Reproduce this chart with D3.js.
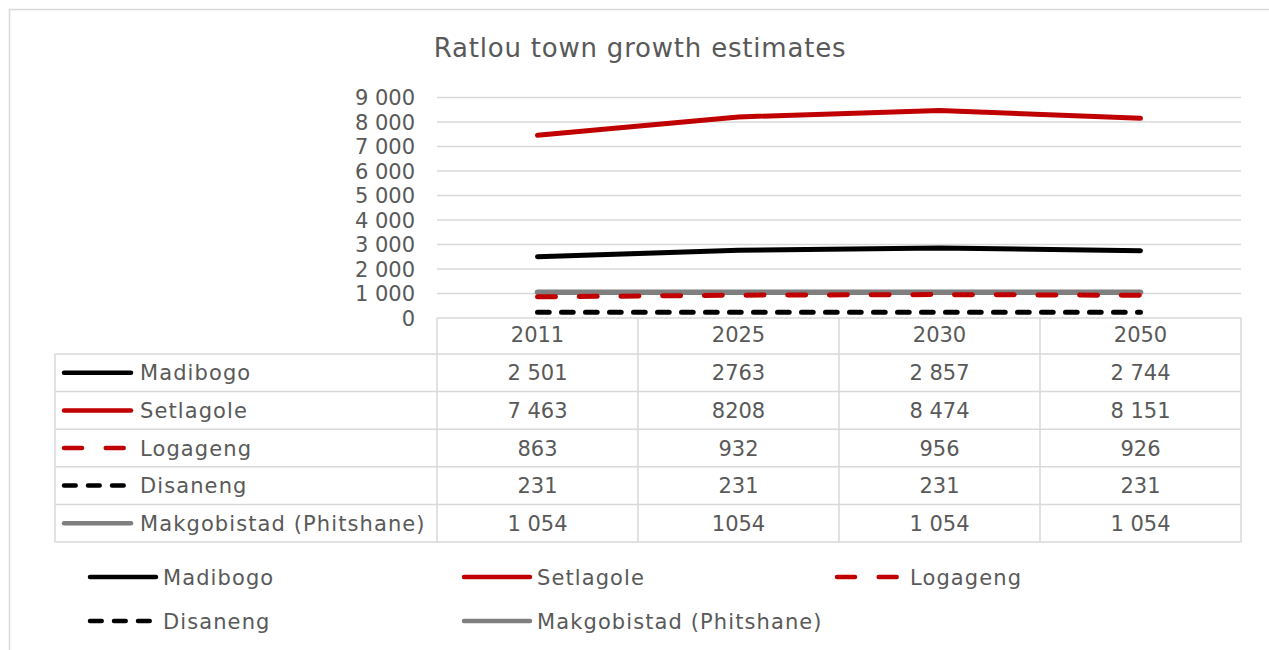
<!DOCTYPE html>
<html>
<head>
<meta charset="utf-8">
<script src="https://cdn.jsdelivr.net/npm/d3@7"></script>
<style>
  body { margin: 0; background: #fff; }
  text { font-family: "DejaVu Sans", sans-serif; fill: #595959; }
</style>
</head>
<body>
<div class="chart"></div>
<script>
const years = ["2011", "2025", "2030", "2050"]
const seriesNames = ["Madibogo", "Setlagole", "Logageng", "Disaneng", "Makgobistad (Phitshane)"]
const madibogo = [2501, 2763, 2857, 2744]
const setlagole = [7463, 8208, 8474, 8151]
const logageng = [863, 932, 956, 926]
const disaneng = [231, 231, 231, 231]
const makgobistad = [1054, 1054, 1054, 1054]
// table text, as printed (the 2025 column has no thousands gap)
const tableLabels = [
  ["2 501", "2763", "2 857", "2 744"],
  ["7 463", "8208", "8 474", "8 151"],
  ["863", "932", "956", "926"],
  ["231", "231", "231", "231"],
  ["1 054", "1054", "1 054", "1 054"]
]
const yTicks = [0, 1000, 2000, 3000, 4000, 5000, 6000, 7000, 8000, 9000]

const width = 1269
const height = 650
const plot = {left: 437, right: 1241, top: 97.5, bottom: 318}
const tableLeft = 55
const headerH = 36
const rowH = 37.6

const styles = [
  {color: "#000000", dash: null, w: 5},
  {color: "#C00000", dash: null, w: 5},
  {color: "#C00000", dash: "18,23.7", w: 5},
  {color: "#000000", dash: "11.7,12.3", w: 5},
  {color: "#7F7F7F", dash: null, w: 5.5}
]
const allValues = [madibogo, setlagole, logageng, disaneng, makgobistad]

const x = d3.scaleBand().domain(years).range([plot.left, plot.right])
const y = d3.scaleLinear().domain([0, 9000]).range([plot.bottom, plot.top])

const svg = d3.select(".chart").append("svg")
  .attr("width", width)
  .attr("height", height)

// outer chart border
svg.append("rect")
  .attr("x", 9.5).attr("y", 9.5)
  .attr("width", width + 20).attr("height", height + 20)
  .attr("fill", "none").attr("stroke", "#d9d9d9").attr("stroke-width", 1.5)

svg.append("text")
  .attr("x", 640).attr("y", 57)
  .attr("text-anchor", "middle")
  .attr("font-size", "26px")
  .attr("letter-spacing", "0.8px")
  .text("Ratlou town growth estimates")

// gridlines + y labels
const fmt = d => d3.format(",")(d).replace(/,/g, " ")
svg.selectAll(".grid")
  .data(yTicks.filter(d => d > 0))
  .enter().append("line")
  .attr("x1", plot.left).attr("x2", plot.right)
  .attr("y1", d => y(d)).attr("y2", d => y(d))
  .attr("stroke", "#d9d9d9").attr("stroke-width", 1.5)

svg.selectAll(".ylab")
  .data(yTicks)
  .enter().append("text")
  .attr("x", 415)
  .attr("y", d => y(d))
  .attr("dy", "0.36em")
  .attr("text-anchor", "end")
  .attr("font-size", "21px")
  .text(fmt)

// lines
const line = d3.line()
  .x((d, i) => x(years[i]) + x.bandwidth() / 2)
  .y(d => y(d))

const drawOrder = [0, 1, 4, 2, 3]
drawOrder.forEach(i => {
  svg.append("path")
    .attr("d", line(allValues[i]))
    .attr("fill", "none")
    .attr("stroke", styles[i].color)
    .attr("stroke-width", styles[i].w)
    .attr("stroke-linecap", "round")
    .attr("stroke-linejoin", "round")
    .attr("stroke-dasharray", styles[i].dash)
})

// data table
const tableBottom = plot.bottom + headerH + rowH * seriesNames.length
const rowTop = i => plot.bottom + headerH + rowH * i
const tbl = svg.append("g").attr("stroke", "#d9d9d9").attr("stroke-width", 1.5)
tbl.append("line").attr("x1", plot.left).attr("x2", plot.right)
  .attr("y1", plot.bottom).attr("y2", plot.bottom)
d3.range(seriesNames.length + 1).forEach(i => {
  tbl.append("line").attr("x1", tableLeft).attr("x2", plot.right)
    .attr("y1", rowTop(i)).attr("y2", rowTop(i))
})
tbl.append("line").attr("x1", tableLeft).attr("x2", tableLeft)
  .attr("y1", rowTop(0)).attr("y2", tableBottom)
years.forEach(yr => {
  tbl.append("line").attr("x1", x(yr)).attr("x2", x(yr))
    .attr("y1", plot.bottom).attr("y2", tableBottom)
})
tbl.append("line").attr("x1", plot.right).attr("x2", plot.right)
  .attr("y1", plot.bottom).attr("y2", tableBottom)

svg.selectAll(".yearlab")
  .data(years)
  .enter().append("text")
  .attr("x", d => x(d) + x.bandwidth() / 2)
  .attr("y", plot.bottom + headerH / 2 - 1.5)
  .attr("dy", "0.36em")
  .attr("text-anchor", "middle")
  .attr("font-size", "21px")
  .text(d => d)

function legendKey(g, i, x0, x1, yy) {
  g.append("line")
    .attr("x1", x0).attr("x2", x1)
    .attr("y1", yy).attr("y2", yy)
    .attr("stroke", styles[i].color)
    .attr("stroke-width", 4.5)
    .attr("stroke-linecap", "round")
    .attr("stroke-dasharray", styles[i].dash)
}

seriesNames.forEach((name, i) => {
  const cy = rowTop(i) + rowH / 2
  legendKey(svg, i, 64, 131, cy)
  svg.append("text")
    .attr("x", 140).attr("y", cy)
    .attr("dy", "0.36em")
    .attr("font-size", "21px")
    .attr("letter-spacing", "1.1px")
    .text(name)
  years.forEach((yr, j) => {
    svg.append("text")
      .attr("x", x(yr) + x.bandwidth() / 2)
      .attr("y", cy)
      .attr("dy", "0.36em")
      .attr("text-anchor", "middle")
      .attr("font-size", "21px")
      .text(tableLabels[i][j])
  })
})

// bottom legend
const legendPos = [[88, 577], [462, 577], [835, 577], [88, 621], [462, 621]]
seriesNames.forEach((name, i) => {
  const [lx, ly] = legendPos[i]
  legendKey(svg, i, lx + 2, lx + 68, ly)
  svg.append("text")
    .attr("x", lx + 75).attr("y", ly)
    .attr("dy", "0.36em")
    .attr("font-size", "21px")
    .attr("letter-spacing", "1.1px")
    .text(name)
})
</script>
</body>
</html>
